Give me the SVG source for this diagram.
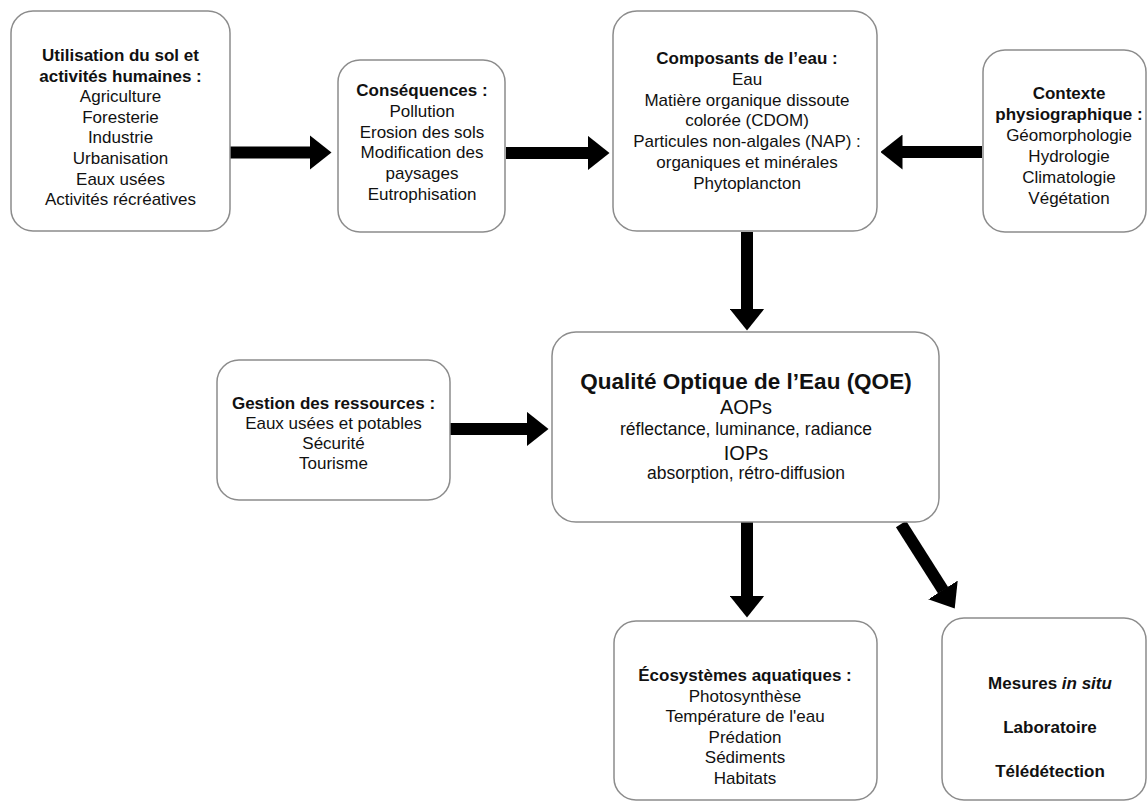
<svg xmlns="http://www.w3.org/2000/svg" width="1148" height="806" viewBox="0 0 1148 806">
<style>
.box{fill:#fff;stroke:#8c8c8c;stroke-width:1.5}
text{font-family:"Liberation Sans",Arial,sans-serif;font-size:17px;fill:#111;text-anchor:middle}
.b{font-weight:bold}
.conn{stroke:#000;stroke-width:12;fill:none}
</style>
<defs>
<marker id="ah" viewBox="0 0 22 35" markerWidth="22" markerHeight="35" refX="0.5" refY="17.5" orient="auto" markerUnits="userSpaceOnUse">
<path d="M0,0 L22,17.5 L0,35 z" fill="#000"/>
</marker>
</defs>
<rect width="1148" height="806" fill="#fff"/>

<g id="connectors">
<line class="conn" x1="230" y1="152.5" x2="310" y2="152.5" marker-end="url(#ah)"/>
<line class="conn" x1="506" y1="153" x2="588" y2="153" marker-end="url(#ah)"/>
<line class="conn" x1="982" y1="152" x2="902" y2="152" marker-end="url(#ah)"/>
<line class="conn" x1="747" y1="232" x2="747" y2="309" marker-end="url(#ah)"/>
<line class="conn" x1="450" y1="429" x2="527" y2="429" marker-end="url(#ah)"/>
<line class="conn" x1="747" y1="522" x2="747" y2="596" marker-end="url(#ah)"/>
<line class="conn" x1="901" y1="524" x2="943.2" y2="590.4" marker-end="url(#ah)"/>
</g>

<g id="utilisation">
<rect class="box" x="11" y="11" width="219" height="220" rx="22"/>
<text x="120.5" y="61" class="b">Utilisation du sol et</text>
<text x="120.5" y="81.6" class="b">activités humaines :</text>
<text x="120.5" y="102.2">Agriculture</text>
<text x="120.5" y="122.8">Foresterie</text>
<text x="120.5" y="143.4">Industrie</text>
<text x="120.5" y="164">Urbanisation</text>
<text x="120.5" y="184.6">Eaux usées</text>
<text x="120.5" y="205.2">Activités récréatives</text>
</g>

<g id="consequences">
<rect class="box" x="338" y="60" width="167" height="172" rx="22"/>
<text x="422" y="96" class="b">Conséquences :</text>
<text x="422" y="116.8">Pollution</text>
<text x="422" y="137.6">Erosion des sols</text>
<text x="422" y="158.4">Modification des</text>
<text x="422" y="179.2">paysages</text>
<text x="422" y="200">Eutrophisation</text>
</g>

<g id="composants">
<rect class="box" x="613" y="11" width="264" height="220" rx="24"/>
<text x="747" y="64" class="b">Composants de l’eau :</text>
<text x="747" y="84.8">Eau</text>
<text x="747" y="105.6">Matière organique dissoute</text>
<text x="747" y="126.4">colorée (CDOM)</text>
<text x="747" y="147.2">Particules non-algales (NAP) :</text>
<text x="747" y="168">organiques et minérales</text>
<text x="747" y="188.8">Phytoplancton</text>
</g>

<g id="contexte">
<rect class="box" x="983" y="50" width="163" height="182" rx="22"/>
<text x="1069" y="99" class="b">Contexte</text>
<text x="1069" y="120" class="b">physiographique :</text>
<text x="1069" y="141">Géomorphologie</text>
<text x="1069" y="162">Hydrologie</text>
<text x="1069" y="183">Climatologie</text>
<text x="1069" y="204">Végétation</text>
</g>

<g id="gestion">
<rect class="box" x="217" y="360" width="233" height="140" rx="22"/>
<text x="333.5" y="409" class="b">Gestion des ressources :</text>
<text x="333.5" y="429">Eaux usées et potables</text>
<text x="333.5" y="449">Sécurité</text>
<text x="333.5" y="469">Tourisme</text>
</g>

<g id="qoe">
<rect class="box" x="552" y="332" width="387" height="190" rx="24"/>
<text x="746" y="389" class="b" style="font-size:22.5px">Qualité Optique de l’Eau (QOE)</text>
<text x="746" y="414" style="font-size:20px">AOPs</text>
<text x="746" y="435" style="font-size:17.5px">réflectance, luminance, radiance</text>
<text x="746" y="460" style="font-size:20px">IOPs</text>
<text x="746" y="479" style="font-size:17.5px">absorption, rétro-diffusion</text>
</g>

<g id="ecosystemes">
<rect class="box" x="614" y="621" width="263" height="179" rx="22"/>
<text x="745" y="681" class="b">Écosystèmes aquatiques :</text>
<text x="745" y="701.6">Photosynthèse</text>
<text x="745" y="722.2">Température de l'eau</text>
<text x="745" y="742.8">Prédation</text>
<text x="745" y="763.4">Sédiments</text>
<text x="745" y="784">Habitats</text>
</g>

<g id="mesures">
<rect class="box" x="942" y="618" width="204" height="182" rx="22"/>
<text x="1050" y="689" class="b">Mesures <tspan font-style="italic">in situ</tspan></text>
<text x="1050" y="733" class="b">Laboratoire</text>
<text x="1050" y="777" class="b">Télédétection</text>
</g>
</svg>
